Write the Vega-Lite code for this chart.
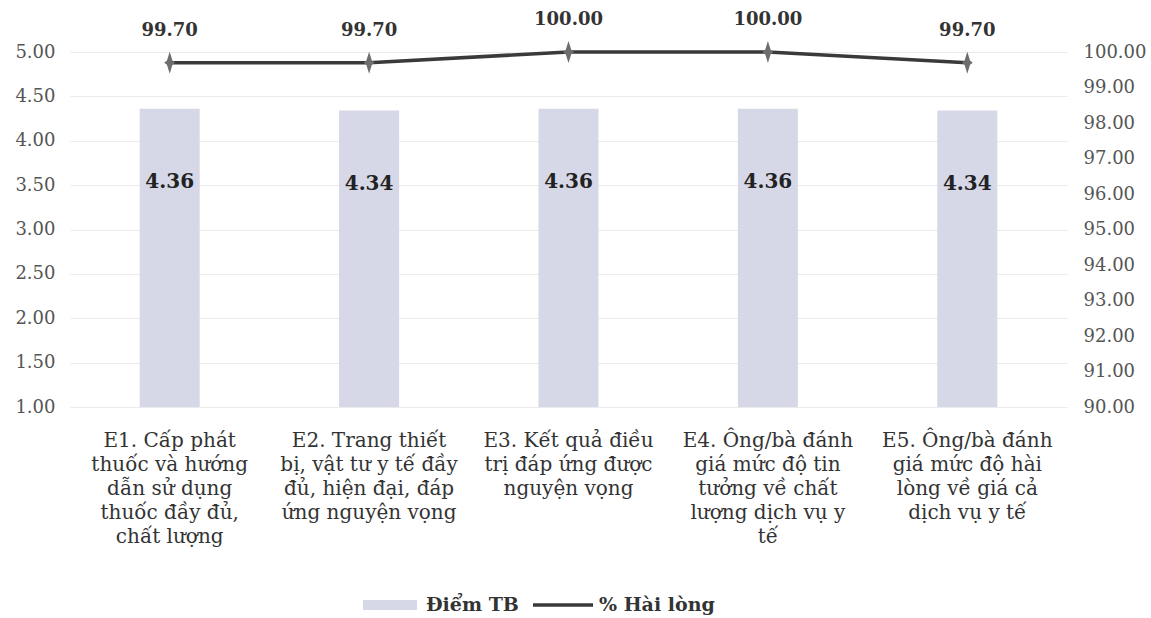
{
  "$schema": "https://vega.github.io/schema/vega-lite/v6.json",
  "autosize": "none",
  "width": 997,
  "height": 355,
  "padding": {"left": 70, "top": 52, "right": 84, "bottom": 211},
  "background": "white",
  "config": {
    "view": {"stroke": null},
    "font": "DejaVu Serif",
    "text": {"font": "DejaVu Serif"},
    "axis": {"labelFont": "DejaVu Serif", "titleFont": "DejaVu Serif"},
    "legend": {"labelFont": "DejaVu Serif"}
  },
  "data": {
    "values": [
      {"cat": "E1. Cấp phát|thuốc và hướng|dẫn sử dụng|thuốc đầy đủ,|chất lượng", "diem": 4.36, "hl": 99.7},
      {"cat": "E2. Trang thiết|bị, vật tư y tế đầy|đủ, hiện đại, đáp|ứng nguyện vọng", "diem": 4.34, "hl": 99.7},
      {"cat": "E3. Kết quả điều|trị đáp ứng được|nguyện vọng", "diem": 4.36, "hl": 100.0},
      {"cat": "E4. Ông/bà đánh|giá mức độ tin|tưởng về chất|lượng dịch vụ y|tế", "diem": 4.36, "hl": 100.0},
      {"cat": "E5. Ông/bà đánh|giá mức độ hài|lòng về giá cả|dịch vụ y tế", "diem": 4.34, "hl": 99.7}
    ]
  },
  "encoding": {
    "x": {
      "field": "cat", "type": "nominal", "sort": null,
      "scale": {"paddingInner": 0, "paddingOuter": 0},
      "axis": {
        "title": null, "labelAngle": 0, "domain": false, "ticks": false,
        "labelExpr": "split(datum.label, '|')",
        "labelFontSize": 20, "labelColor": "#333", "labelPadding": 23,
        "labelLineHeight": 24, "labelBaseline": "top", "labelLimit": 250
      }
    }
  },
  "layer": [
    {
      "encoding": {
        "y": {
          "field": "diem", "type": "quantitative",
          "scale": {"domain": [1, 5], "zero": false, "nice": false},
          "axis": {
            "title": null, "values": [1, 1.5, 2, 2.5, 3, 3.5, 4, 4.5, 5],
            "format": ".2f", "domain": false, "ticks": false, "labelOverlap": false,
            "labelFontSize": 18, "labelColor": "#555", "labelPadding": 15,
            "grid": true, "gridColor": "#ebebeb", "gridWidth": 1
          }
        }
      },
      "layer": [
        {
          "mark": {"type": "bar", "width": 60},
          "encoding": {
            "y2": {"datum": 1},
            "color": {
              "datum": "Điểm TB", "type": "nominal",
              "scale": {"domain": ["Điểm TB", "% Hài lòng"], "range": ["#d6d8e7", "#3a3a3a"]},
              "legend": {
                "orient": "none", "legendX": 290, "legendY": 523,
                "direction": "horizontal", "title": null,
                "labelFontSize": 19, "labelFontWeight": "bold",
                "labelColor": "#333", "symbolSize": 3600, "labelOffset": 6, "columnPadding": 14,
                "encode": {
                  "symbols": {
                    "update": {
                      "shape": {"signal": "datum.label === 'Điểm TB' ? 'M-0.9,-0.17H0.9V0.17H-0.9Z' : 'M-1,-0.055H1V0.055H-1Z'"},
                      "fill": {"signal": "datum.label === 'Điểm TB' ? '#d6d8e7' : '#3a3a3a'"},
                      "strokeWidth": {"value": 0},
                      "opacity": {"value": 1},
                      "fillOpacity": {"value": 1}
                    }
                  }
                }
              }
            }
          }
        },
        {
          "mark": {"type": "text", "dy": 73, "fontSize": 20, "fontWeight": "bold", "color": "#222", "baseline": "middle"},
          "encoding": {
            "text": {"field": "diem", "type": "quantitative", "format": ".2f"}
          }
        }
      ]
    },
    {
      "encoding": {
        "y": {
          "field": "hl", "type": "quantitative",
          "scale": {"domain": [90, 100], "zero": false, "nice": false},
          "axis": {
            "orient": "right", "title": null,
            "values": [90, 91, 92, 93, 94, 95, 96, 97, 98, 99, 100],
            "format": ".2f", "domain": false, "ticks": false, "grid": false, "labelOverlap": false,
            "labelFontSize": 18, "labelColor": "#555", "labelPadding": 16
          }
        }
      },
      "layer": [
        {
          "mark": {"type": "line", "strokeWidth": 3.5},
          "encoding": {
            "color": {"datum": "% Hài lòng", "type": "nominal"}
          }
        },
        {
          "mark": {"type": "point", "filled": true, "color": "#6e6e6e", "opacity": 1, "size": 484,
                   "shape": "M0,-1L0.25,-0.2L0.5,0L0.25,0.2L0,1L-0.25,0.2L-0.5,0L-0.25,-0.2Z"}
        },
        {
          "mark": {"type": "text", "dy": -32, "fontSize": 18, "fontWeight": "bold", "color": "#333", "baseline": "middle"},
          "encoding": {
            "text": {"field": "hl", "type": "quantitative", "format": ".2f"}
          }
        }
      ]
    }
  ],
  "resolve": {"scale": {"y": "independent"}}
}
